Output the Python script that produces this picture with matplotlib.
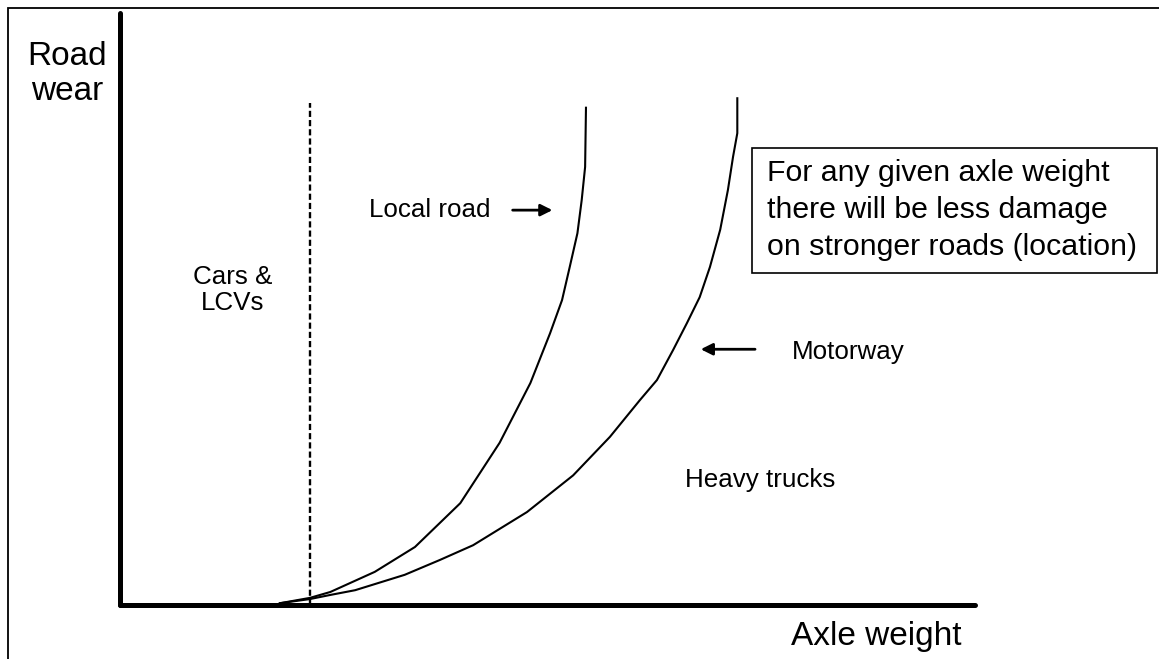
import matplotlib
matplotlib.use("Agg")
import matplotlib.pyplot as plt
import matplotlib.patches as mpatches

plt.rcParams["font.family"] = ["Liberation Sans", "DejaVu Sans"]

W, H = 1159, 659

# curves (axle weight 0-100, road wear 0-100)
local_x = [18.7, 22.2, 24.6, 29.8, 34.5, 39.8, 44.4, 48.0, 50.3, 51.7,
           52.6, 53.5, 54.0, 54.4, 54.5]
local_y = [0.3, 1.2, 2.2, 5.6, 9.8, 17.2, 27.4, 37.5, 45.9, 51.5,
           57.1, 62.8, 68.4, 74.0, 84.0]

motorway_x = [18.7, 22.2, 24.6, 27.5, 33.3, 37.4, 41.3, 47.6, 53.0, 57.3, 60.8, 62.8,
              64.7, 66.3, 67.8, 69.0, 70.2, 71.1, 71.7, 72.2, 72.2]
motorway_y = [0.3, 1.0, 1.7, 2.5, 5.1, 7.6, 10.1, 15.7, 21.9, 28.4, 34.6, 38.0,
              43.1, 47.6, 52.0, 57.1, 63.4, 70.1, 75.7, 79.7, 85.6]

car_limit_x = 22.2
car_limit_top = 84.8

box_text = "For any given axle weight\nthere will be less damage\non stronger roads (location)"


def fx(px):
    return px / W


def fy(py):
    return 1 - py / H


fig = plt.figure(figsize=(W / 100, H / 100), dpi=100)
fig.patch.set_facecolor("white")

# outer frame (only left and top edges show)
fig.patches.append(mpatches.Rectangle((fx(8), -0.1), 1.2, fy(8) + 0.1,
                                      transform=fig.transFigure, fill=False,
                                      edgecolor="black", linewidth=1.3))

ax = fig.add_axes([fx(120), fy(605), 855 / W, 592 / H])
ax.set_xlim(0, 100)
ax.set_ylim(0, 100)
ax.set_xticks([])
ax.set_yticks([])
for side in ["top", "right"]:
    ax.spines[side].set_visible(False)
for side in ["left", "bottom"]:
    ax.spines[side].set_linewidth(3.6)
    ax.spines[side].set_capstyle("round")

ax.plot(local_x, local_y, color="black", lw=1.5, solid_joinstyle="round")
ax.plot(motorway_x, motorway_y, color="black", lw=1.5, solid_joinstyle="round")
ax.plot([car_limit_x, car_limit_x], [0, car_limit_top], color="black", lw=1.7,
        linestyle=(0, (2.6, 1.3)))

arrow = dict(arrowstyle="-|>,head_length=0.7,head_width=0.35", color="black", lw=2)
ax.annotate("", xy=(50.9, 66.7), xytext=(45.6, 66.7), arrowprops=arrow)
ax.annotate("", xy=(67.6, 43.2), xytext=(74.6, 43.2), arrowprops=arrow)

ax.text(43.3, 66.7, "Local road", ha="right", va="center", fontsize=18.7)
ax.text(78.6, 42.7, "Motorway", ha="left", va="center", fontsize=18.7)
ax.text(66.1, 21.1, "Heavy trucks", ha="left", va="center", fontsize=18.7)
ax.text(13.2, 53.2, "Cars &\nLCVs", ha="center", va="center", fontsize=18.7,
        multialignment="center", linespacing=1.15)

fig.text(fx(67), fy(74), "Road\nwear", ha="center", va="center", fontsize=24,
         multialignment="center", linespacing=1.2)
fig.text(fx(876), fy(637), "Axle weight", ha="center", va="center", fontsize=24)

fig.patches.append(mpatches.Rectangle((fx(752), fy(273)), fx(1157) - fx(752), fy(148) - fy(273),
                                      transform=fig.transFigure, fill=False,
                                      edgecolor="black", linewidth=1.2))
fig.text(fx(767), fy(210), box_text, ha="left", va="center", fontsize=21.8, linespacing=1.42)

fig.savefig("out.png", dpi=100)
